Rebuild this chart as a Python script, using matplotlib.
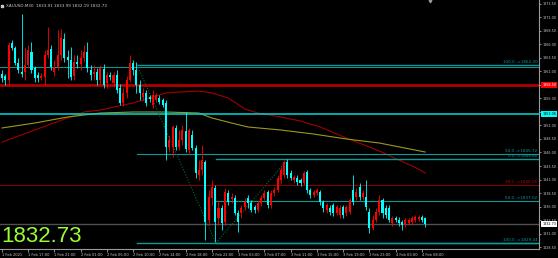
import numpy as np
import matplotlib.pyplot as plt

# XAUUSD M30 candles (open, high, low, close)
opens = [1860.54, 1860.16, 1859.42, 1866.28, 1865.35, 1862.57, 1860.91, 1860.91, 1862.20, 1864.61,
         1861.65, 1860.35, 1859.79, 1859.98, 1864.05, 1865.17, 1860.91, 1861.83, 1864.05, 1867.02,
         1863.68, 1863.13, 1860.16, 1862.76, 1862.39, 1863.50, 1864.61, 1861.28, 1860.54, 1860.91,
         1859.42, 1861.46, 1858.87, 1860.35, 1858.87, 1860.35, 1857.94, 1855.16, 1857.02, 1859.42,
         1862.57, 1861.28, 1858.50, 1856.28, 1857.02, 1856.28, 1854.79, 1855.72, 1856.09, 1855.72,
         1855.16, 1847.02, 1847.02, 1850.53, 1847.02, 1848.31, 1849.98, 1846.46, 1849.24, 1846.83,
         1841.83, 1842.76, 1844.24, 1833.50, 1837.57, 1839.42, 1833.87, 1835.72, 1833.13, 1838.50,
         1837.39, 1837.57, 1834.79, 1834.79, 1835.90, 1837.57, 1836.64, 1835.90, 1835.35, 1836.64,
         1837.57, 1838.68, 1836.27, 1838.50, 1839.05, 1840.90, 1841.83, 1844.24, 1842.20, 1840.90,
         1841.27, 1840.90, 1840.35, 1842.39, 1839.05, 1838.13, 1838.50, 1838.68, 1836.83, 1835.35,
         1835.72, 1836.27, 1834.79, 1834.42, 1835.90, 1834.79, 1834.98, 1839.05, 1837.76, 1839.61,
         1837.76, 1837.76, 1834.98, 1832.01, 1833.50, 1834.98, 1837.20, 1835.72, 1835.72, 1832.94,
         1833.87, 1833.50, 1833.13, 1832.57, 1832.94, 1833.13, 1833.50, 1833.68, 1834.05, 1833.91]
highs = [1861.28, 1860.54, 1866.46, 1866.83, 1865.72, 1863.50, 1871.65, 1865.54, 1865.91, 1866.46,
         1862.02, 1860.91, 1860.72, 1864.98, 1869.24, 1865.91, 1863.13, 1868.68, 1868.87, 1868.13,
         1864.98, 1865.54, 1864.05, 1864.05, 1864.98, 1865.91, 1866.46, 1862.20, 1862.20, 1861.65,
         1862.20, 1862.39, 1860.91, 1860.91, 1860.91, 1861.28, 1858.68, 1857.94, 1860.16, 1864.05,
         1863.13, 1862.76, 1859.42, 1857.94, 1857.57, 1856.65, 1857.57, 1857.02, 1856.65, 1856.09,
         1855.72, 1849.24, 1851.09, 1851.09, 1850.16, 1851.09, 1853.50, 1850.53, 1850.16, 1847.39,
         1844.61, 1847.39, 1844.61, 1839.05, 1840.90, 1839.98, 1837.20, 1836.27, 1839.42, 1839.05,
         1838.50, 1838.13, 1835.35, 1836.27, 1837.57, 1838.13, 1837.20, 1836.27, 1837.20, 1838.13,
         1839.05, 1839.05, 1839.05, 1839.61, 1841.83, 1843.31, 1844.61, 1844.79, 1842.76, 1841.83,
         1841.83, 1841.27, 1842.57, 1842.76, 1839.42, 1839.05, 1839.42, 1839.05, 1837.20, 1836.64,
         1836.27, 1836.64, 1836.27, 1836.27, 1836.27, 1836.27, 1837.57, 1841.83, 1839.42, 1840.35,
         1839.05, 1840.90, 1835.72, 1834.42, 1835.72, 1838.13, 1837.57, 1836.27, 1836.27, 1834.24,
         1834.24, 1834.05, 1833.50, 1833.87, 1833.87, 1834.24, 1834.42, 1834.42, 1834.42, 1833.99]
lows = [1859.05, 1858.50, 1858.50, 1864.98, 1862.20, 1860.72, 1859.98, 1859.42, 1861.65, 1860.72,
        1859.05, 1859.05, 1859.42, 1858.50, 1863.50, 1861.28, 1860.16, 1861.28, 1863.13, 1862.76,
        1859.79, 1859.42, 1859.42, 1861.65, 1861.28, 1862.76, 1860.91, 1859.42, 1859.42, 1858.50,
        1858.68, 1857.94, 1857.94, 1859.42, 1858.13, 1857.02, 1854.79, 1854.61, 1856.09, 1859.05,
        1860.35, 1857.02, 1855.72, 1855.72, 1854.61, 1855.35, 1854.24, 1855.35, 1854.98, 1854.42,
        1844.61, 1846.09, 1845.16, 1846.46, 1846.46, 1847.39, 1846.09, 1845.53, 1846.46, 1841.27,
        1840.90, 1841.83, 1829.79, 1832.57, 1836.27, 1829.42, 1832.57, 1831.64, 1832.57, 1836.27,
        1836.64, 1834.42, 1831.27, 1833.87, 1835.35, 1835.72, 1834.98, 1834.79, 1834.98, 1836.09,
        1837.20, 1835.72, 1835.72, 1837.94, 1838.68, 1840.35, 1841.27, 1841.27, 1840.90, 1840.35,
        1839.98, 1839.79, 1839.98, 1838.50, 1837.57, 1837.76, 1838.13, 1836.27, 1834.98, 1834.79,
        1834.42, 1834.24, 1834.42, 1833.87, 1833.87, 1834.24, 1834.61, 1836.27, 1837.20, 1837.20,
        1837.20, 1835.35, 1831.09, 1831.64, 1833.13, 1834.42, 1833.87, 1833.87, 1833.13, 1832.38,
        1833.13, 1832.38, 1831.64, 1832.20, 1832.57, 1832.76, 1833.13, 1833.31, 1833.13, 1832.19]
closes = [1859.79, 1859.42, 1865.91, 1865.35, 1862.57, 1861.28, 1860.54, 1862.20, 1864.98, 1861.28,
          1859.79, 1859.79, 1860.16, 1864.05, 1864.98, 1861.83, 1861.83, 1864.05, 1867.20, 1863.50,
          1863.13, 1859.98, 1862.76, 1862.39, 1863.50, 1864.61, 1861.65, 1860.35, 1860.91, 1859.42,
          1861.65, 1858.50, 1860.35, 1859.98, 1860.35, 1857.57, 1855.16, 1857.02, 1859.42, 1862.57,
          1861.28, 1858.50, 1857.02, 1857.02, 1855.16, 1855.91, 1856.65, 1856.65, 1855.35, 1854.79,
          1847.02, 1848.31, 1850.72, 1847.02, 1848.31, 1850.16, 1846.65, 1850.16, 1846.83, 1842.20,
          1842.76, 1844.61, 1833.13, 1837.76, 1839.61, 1833.13, 1835.72, 1832.94, 1838.68, 1836.83,
          1837.76, 1834.79, 1833.13, 1835.72, 1836.83, 1836.64, 1835.35, 1835.35, 1836.64, 1837.57,
          1838.50, 1836.27, 1838.50, 1839.05, 1841.27, 1842.76, 1844.24, 1841.83, 1841.27, 1841.46,
          1840.53, 1840.35, 1842.20, 1839.05, 1838.13, 1838.68, 1839.05, 1836.83, 1835.72, 1836.27,
          1834.98, 1834.79, 1835.90, 1835.72, 1834.42, 1835.90, 1837.20, 1836.83, 1838.68, 1837.76,
          1838.50, 1835.90, 1832.01, 1833.50, 1834.98, 1837.20, 1834.79, 1834.42, 1833.50, 1833.87,
          1833.50, 1832.94, 1832.57, 1833.50, 1833.50, 1833.87, 1834.05, 1834.05, 1833.50, 1832.73]

# moving averages read at a few bars
ma_red_bars = [0, 10, 20, 25, 30, 40, 45, 50, 54, 60, 64, 69, 74, 78, 85, 91, 97, 105, 115, 127, 129]
ma_red_vals = [1847.94, 1850.17, 1852.39, 1853.50, 1853.87, 1855.17, 1856.09, 1857.02, 1857.20, 1857.39,
               1857.02, 1856.09, 1854.05, 1853.31, 1852.57, 1851.83, 1850.72, 1848.68, 1846.28, 1842.94, 1842.20]
ma_olive_bars = [0, 10, 20, 30, 40, 50, 60, 64, 70, 75, 85, 95, 105, 115, 129]
ma_olive_vals = [1850.54, 1851.46, 1852.57, 1853.31, 1853.50, 1853.50, 1853.31, 1852.39, 1851.46, 1850.72,
                 1850.17, 1849.42, 1848.50, 1847.76, 1846.09]

time_labels = ["1 Feb 2021", "1 Feb 17:00", "1 Feb 21:00", "2 Feb 01:00", "2 Feb 05:00", "2 Feb 10:00",
               "2 Feb 14:00", "2 Feb 18:00", "2 Feb 22:00", "3 Feb 03:00", "3 Feb 07:00", "3 Feb 11:00",
               "3 Feb 15:00", "3 Feb 19:00", "3 Feb 23:00", "4 Feb 03:00", "4 Feb 08:00"]

# fibo anchors (bar, price)
fib1 = (41.2, 1862.20, 65.2, 1829.24)
fib2 = (65.2, 1829.24, 87.2, 1844.80)
last_price = 1832.73

CYAN = '#00ffff'
RED = '#ff0000'
TEAL = '#0a9a9a'

fig = plt.figure(figsize=(5.58, 2.58), dpi=100, facecolor='black')
ax = fig.add_axes([0, 9 / 258, 539 / 558, 249 / 258], facecolor='black')

n = len(opens)
x = np.arange(n)
o = np.array(opens); h = np.array(highs); l = np.array(lows); c = np.array(closes)
up = c >= o
cols = np.where(up, RED, CYAN)

# moving averages under the candles
ax.plot(ma_red_bars, ma_red_vals, color='#a00000', lw=0.8, zorder=1)
ax.plot(ma_olive_bars, ma_olive_vals, color='#9a9a1a', lw=0.8, zorder=1)

# horizontal lines
ax.axhline(1861.83, color=TEAL, lw=0.7, zorder=1)
ax.axhline(1858.50, color='#b00000', lw=2.0, zorder=1)
ax.axhline(1853.06, color='#00d8d8', lw=1.1, zorder=1)
ax.axhline(1839.98, color='#8b0000', lw=0.7, zorder=1)
ax.axhline(last_price, color='#505050', lw=1.0, zorder=1)

xmax = 163.7
for b0, p0, b1, p1 in [fib1, fib2]:
    for lvl in (0.0, 0.5, 1.0):
        pr = p1 + (p0 - p1) * lvl
        lw = 1.0 if lvl != 0.5 else 0.8
        ax.plot([b0, xmax], [pr, pr], color=TEAL, lw=lw, zorder=1)
    ax.plot([b0, b1], [p0, p1], color='#006a3a', lw=0.8, ls=(0, (1, 1.5)), zorder=1)

# candles
ax.vlines(x, l, h, colors=cols, lw=0.6, zorder=2)
ax.bar(x, np.abs(c - o), bottom=np.minimum(o, c), width=0.62, color=cols, lw=0, zorder=3)

ax.set_xlim(-0.6, xmax)
ax.set_ylim(1828.13, 1874.24)

# fibo texts
fib_texts = [(1862.20, "100.0 ->1862.20", TEAL), (1845.72, "50.0 ->1845.72", TEAL),
             (1844.80, "0.0 ->1844.80", TEAL), (1839.98, "38.2 ->1840.05", '#c00000'),
             (1837.02, "50.0 ->1837.02", TEAL), (1829.24, "100.0 ->1829.24", TEAL)]
for pr, txt, col in fib_texts:
    ax.text(xmax - 0.5, pr + 0.15, txt, color=col, fontsize=3, ha='right', va='bottom', zorder=4)

# axes styling
for s in ['top', 'left']:
    ax.spines[s].set_visible(False)
for s in ['right', 'bottom']:
    ax.spines[s].set_color('#9a9a9a')
    ax.spines[s].set_linewidth(0.8)

yt = np.arange(1828.5, 1874.0, 2.5)
ax.yaxis.tick_right()
ax.set_yticks(yt)
# levels hidden behind the price boxes
ax.set_yticklabels(['' if v in (1858.5, 1853.5) else '%.2f' % v for v in yt])
ax.tick_params(axis='y', colors='#c8c8c8', labelsize=2.4, length=1.5, width=0.5, pad=0.8)
ax.set_xticks(np.arange(0, 8 * len(time_labels), 8))
ax.set_xticklabels(time_labels)
ax.tick_params(axis='x', colors='#c8c8c8', labelsize=2.6, length=2, width=0.5, pad=1)
for t in ax.get_xticklabels():
    t.set_ha('left')

# price boxes on the right axis
for pr, fc, tc in [(1858.50, '#ff0000', 'white'), (1853.06, CYAN, 'black'), (last_price, 'white', 'black')]:
    ax.text(1.006, pr, '%.2f' % pr, transform=ax.get_yaxis_transform(), fontsize=2.4, color=tc,
            va='center', ha='left', clip_on=False, zorder=5,
            bbox=dict(boxstyle='square,pad=0.3', fc=fc, ec='none'))

# header and big price
ax.text(0.012, 0.985, "XAUUSD,M30  1833.91 1833.99 1832.19 1832.73", transform=ax.transAxes,
        fontsize=3, color='#c8c8c8', va='top', ha='left')
ax.plot([0.004], [0.975], transform=ax.transAxes, marker='s', ms=1.5, color='#c8c8c8')
ax.plot([130.5], [1874.0], marker='v', ms=2, color='#9a9a9a', clip_on=False)
ax.text(0.003, 0.01, '%.2f' % last_price, transform=ax.transAxes, fontsize=16,
        family='Liberation Sans', color='#99ff33', va='bottom', ha='left', zorder=6)

fig.savefig('out.png', dpi=100, facecolor='black')
